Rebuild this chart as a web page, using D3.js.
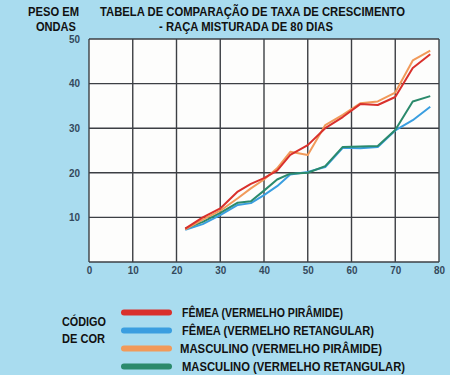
<!DOCTYPE html>
<html>
<head>
<meta charset="utf-8">
<script src="https://cdn.jsdelivr.net/npm/d3@7"></script>
<style>
  body { margin: 0; background: #a9dcef; }
  svg { display: block; }
  text { font-family: "Liberation Sans Narrow", "Liberation Sans", Arial, sans-serif; font-weight: bold; }
</style>
</head>
<body>
<svg width="450" height="375"></svg>
<script>
// dias
const days = [22, 26, 30, 34, 37, 40, 43, 46, 50, 54, 58, 62, 66, 70, 74, 78];
const femeaPiramide = [7.5, 10, 12, 15.8, 17.5, 18.8, 20.5, 24, 26.2, 30, 32.5, 35.4, 35.2, 37, 43.5, 46.6];
const femeaRetangular = [7.2, 8.5, 10.5, 12.8, 13.2, 15, 17, 19.6, 20.2, 21.3, 25.6, 25.5, 25.8, 29.5, 31.8, 34.8];
const mascPiramide = [7.3, 9.5, 11.5, 14.3, 16.5, 18.5, 21, 24.7, 24, 30.7, 33, 35.6, 36, 38, 45.2, 47.4];
const mascRetangular = [7.5, 9, 11, 13.3, 13.6, 16, 18.5, 19.8, 20, 21.5, 25.8, 25.9, 26, 29.6, 36, 37.2];

const xTicks = [0, 10, 20, 30, 40, 50, 60, 70, 80];
const yTicks = [10, 20, 30, 40, 50];

const series = [
  { name: "FÊMEA (VERMELHO PIRÂMIDE)", values: femeaPiramide, color: "#d9302c" },
  { name: "FÊMEA (VERMELHO RETANGULAR)", values: femeaRetangular, color: "#3a9ee0" },
  { name: "MASCULINO (VERMELHO PIRÂMIDE)", values: mascPiramide, color: "#f19a5a" },
  { name: "MASCULINO (VERMELHO RETANGULAR)", values: mascRetangular, color: "#2b8a6c" }
];
const legendWidths = [161, 192, 202, 223];

let svg = d3.select("svg");

let x = d3.scaleLinear().domain([0, 80]).range([89, 439]);
let y = d3.scaleLinear().domain([0, 50]).range([262, 39]);

svg.append("rect")
  .attr("x", x(0)).attr("y", y(50))
  .attr("width", x(80) - x(0)).attr("height", y(0) - y(50))
  .attr("fill", "#fdfdfc");

// grade
let grid = svg.append("g").attr("stroke", "#3c3f44").attr("stroke-width", 1.4);
grid.selectAll(".vx").data(xTicks).enter().append("line")
  .attr("x1", d => x(d)).attr("x2", d => x(d))
  .attr("y1", y(0)).attr("y2", y(50));
grid.selectAll(".hy").data([0, ...yTicks]).enter().append("line")
  .attr("x1", x(0)).attr("x2", x(80))
  .attr("y1", d => y(d)).attr("y2", d => y(d));

let xAxis = svg.append("g")
  .attr("transform", `translate(0, ${y(0)})`)
  .call(d3.axisBottom(x).tickValues(xTicks).tickSize(0).tickPadding(5));
let yAxis = svg.append("g")
  .attr("transform", `translate(${x(0)}, 0)`)
  .call(d3.axisLeft(y).tickValues(yTicks).tickSize(0).tickPadding(9));
[xAxis, yAxis].forEach(a => {
  a.select(".domain").remove();
  a.selectAll("text").attr("fill", "#34495c").style("font-size", "10.5px")
    .attr("textLength", d => String(d).length * 5.5).attr("lengthAdjust", "spacingAndGlyphs");
});

let line = d3.line()
  .x((d, i) => x(days[i]))
  .y(d => y(d));

svg.append("g").selectAll("path")
  .data([series[1], series[3], series[2], series[0]])
  .enter()
  .append("path")
  .attr("d", d => line(d.values))
  .attr("fill", "none")
  .attr("stroke", d => d.color)
  .attr("stroke-width", 2)
  .attr("stroke-linejoin", "round");

function label(tx, px, py, w) {
  return svg.append("text").attr("x", px).attr("y", py)
    .style("font-size", "12.5px").attr("fill", "#111")
    .attr("textLength", w).attr("lengthAdjust", "spacingAndGlyphs")
    .text(tx);
}

// titulos
label("TABELA DE COMPARAÇÃO DE TAXA DE CRESCIMENTO", 100, 16, 305);
label("- RAÇA MISTURADA DE 80 DIAS", 159, 31, 174);
label("PESO EM", 28, 16, 51);
label("ONDAS", 36, 31, 40);

// legenda
label("CÓDIGO", 62, 326, 44);
label("DE COR", 62, 343, 43);

let legend = svg.append("g").selectAll("g")
  .data(series)
  .enter()
  .append("g")
  .attr("transform", (d, i) => `translate(0, ${312.5 + i * 18})`);
legend.append("line")
  .attr("x1", 124).attr("x2", 169)
  .attr("stroke", d => d.color)
  .attr("stroke-width", 6)
  .attr("stroke-linecap", "round");
legend.append("text")
  .attr("x", (d, i) => i === 2 ? 180 : 182).attr("y", 4.5)
  .style("font-size", "12.5px").attr("fill", "#111")
  .attr("textLength", (d, i) => legendWidths[i]).attr("lengthAdjust", "spacingAndGlyphs")
  .text(d => d.name);
</script>
</body>
</html>
